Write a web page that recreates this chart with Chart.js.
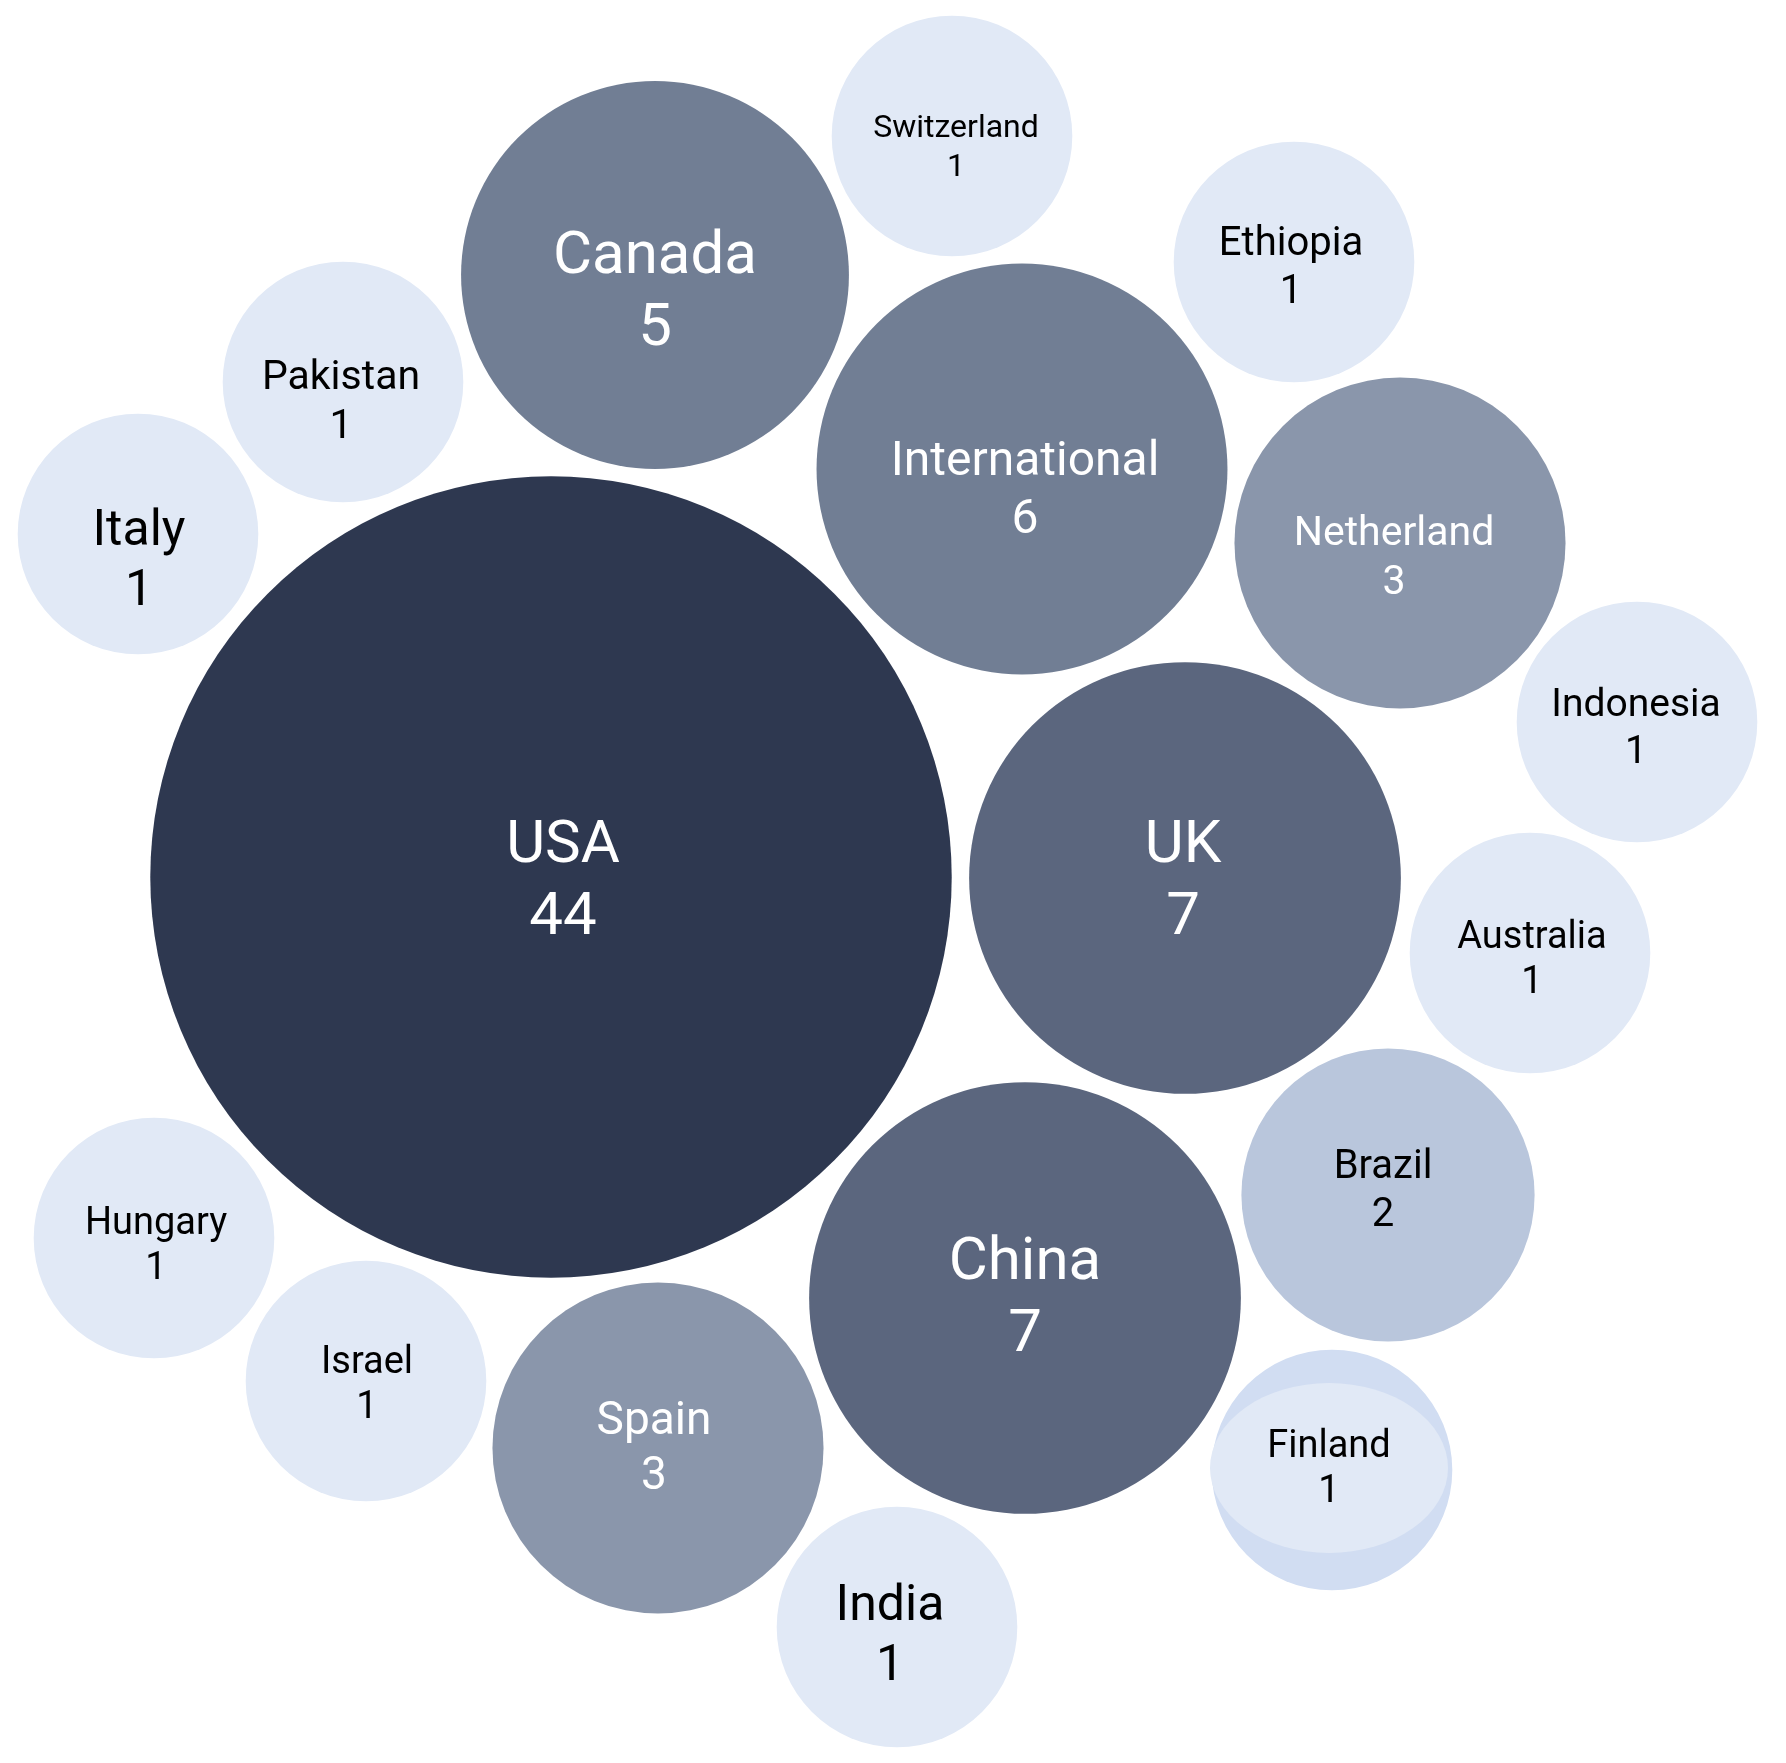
<!DOCTYPE html>
<html>
<head>
<meta charset="utf-8">
<title>Countries</title>
<script src="https://cdn.jsdelivr.net/npm/chart.js@4.4.1/dist/chart.umd.min.js"></script>
<style>
  html, body { margin: 0; padding: 0; background: #ffffff; }
  #wrap { width: 1786px; height: 1763px; }
</style>
</head>
<body>
<div id="wrap"><canvas id="bubbles" width="1786" height="1763"></canvas></div>
<script>
const countries = [
  "USA", "UK", "China", "International", "Canada", "Netherland", "Spain",
  "Brazil", "Switzerland", "Ethiopia", "Pakistan", "Italy", "Indonesia",
  "Australia", "Hungary", "Israel", "India", "Finland",
];
const counts = [44, 7, 7, 6, 5, 3, 3, 2, 1, 1, 1, 1, 1, 1, 1, 1, 1, 1];

// packed layout (layout units, y grows downward)
const layoutX = [
  551, 1185, 1025, 1022, 655, 1400, 658, 1388, 952, 1294, 343, 138, 1637,
  1530, 154, 366, 897, 1332,
];
const layoutY = [
  877, 878, 1298, 469, 275, 543, 1448, 1195, 136, 262, 382, 534, 722, 953,
  1238, 1381, 1627, 1470,
];

// label styling per bubble
const labelFont = [60, 60, 60, 48, 60, 41, 46, 40, 32, 40, 41, 50, 39, 38, 38, 38, 50, 38];
const labelDx = [12, -2, 0, 3, 0, -6, -4, -5, 4, -3, -2, 1, -1, 2, 2, 1, -7, -3];
const labelDy = [0, -1, -4, 18, 13, 12, -3, -7, 9, 3, 17, 23, 4, 4, 5, 1, 5, -4];

function bubbleRadius(v) {
  return 33 + 87.3 * Math.pow(v, 0.38);
}

function bubbleColor(v) {
  if (v >= 20) return "#2e3850";
  if (v >= 7) return "#5b667e";
  if (v >= 5) return "#717e94";
  if (v >= 3) return "#8a96ab";
  if (v >= 2) return "#b9c6dc";
  return "#e1e9f6";
}

const points = countries.map((c, i) => ({
  x: layoutX[i],
  y: layoutY[i],
  r: bubbleRadius(counts[i]),
}));
const colors = countries.map((c, i) =>
  c === "Finland" ? "#d1ddf2" : bubbleColor(counts[i])
);

// Finland shows a lighter squashed disc on top of its bubble
const finlandOverlay = {
  id: "finlandOverlay",
  afterDatasetsDraw(chart) {
    const i = countries.indexOf("Finland");
    const el = chart.getDatasetMeta(0).data[i];
    const ctx = chart.ctx;
    ctx.save();
    ctx.fillStyle = "#e1e9f6";
    ctx.beginPath();
    ctx.ellipse(el.x - 3, el.y - 2, 119, 85, 0, 0, Math.PI * 2);
    ctx.fill();
    ctx.restore();
  },
};

const bubbleLabels = {
  id: "bubbleLabels",
  afterDatasetsDraw(chart) {
    const ctx = chart.ctx;
    const meta = chart.getDatasetMeta(0);
    ctx.save();
    ctx.textAlign = "center";
    ctx.textBaseline = "alphabetic";
    meta.data.forEach((el, i) => {
      const f = labelFont[i];
      const cx = el.x + labelDx[i];
      const cy = el.y + labelDy[i];
      const base1 = cy - 0.6 * f + 0.355 * f;
      ctx.font = "400 " + f + "px Roboto";
      ctx.fillStyle = counts[i] >= 3 ? "#ffffff" : "#000000";
      ctx.fillText(countries[i], cx, base1);
      ctx.fillText(String(counts[i]), cx, base1 + 1.2 * f);
    });
    ctx.restore();
  },
};

const ctx = document.getElementById("bubbles").getContext("2d");
new Chart(ctx, {
  type: "bubble",
  data: {
    labels: countries,
    datasets: [
      {
        label: "Countries",
        data: points,
        backgroundColor: colors,
        borderWidth: 0,
        hoverBorderWidth: 0,
        clip: false,
      },
    ],
  },
  options: {
    responsive: false,
    animation: false,
    events: [],
    layout: { padding: 0, autoPadding: false },
    plugins: {
      legend: { display: false },
      tooltip: { enabled: false },
    },
    scales: {
      x: { type: "linear", min: 0, max: 1786, display: false },
      y: { type: "linear", min: 0, max: 1763, reverse: true, display: false },
    },
  },
  plugins: [finlandOverlay, bubbleLabels],
});
</script>
</body>
</html>
